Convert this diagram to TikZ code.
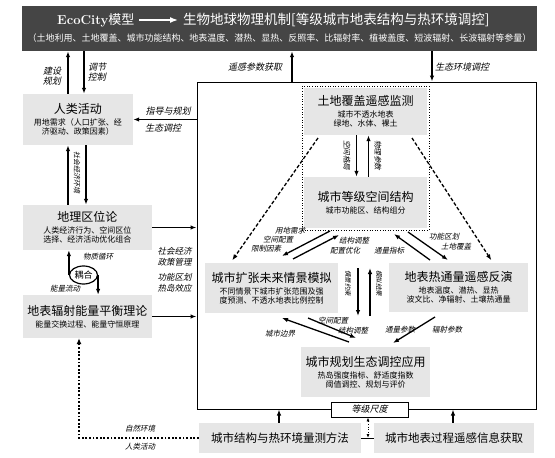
\documentclass[tikz,border=0pt]{standalone}
\usepackage{fontspec}
\usetikzlibrary{arrows.meta, shapes.geometric}
\newfontfamily\cjk{Noto Sans CJK SC}
\newfontfamily\cjkit[FakeSlant=0.22]{Noto Sans CJK SC}
\definecolor{bannergray}{HTML}{454545}
\definecolor{boxgray}{HTML}{E6E6E6}
\newcommand\boxtitle[1]{{\fontsize{12}{14}\selectfont #1\par}}
\newcommand\boxsub[1]{\vspace{3pt}{\fontsize{8}{9}\selectfont #1\par}}
\tikzset{
  arr/.style={line width=1.3pt, -{Latex[length=6pt,width=4.5pt]}},
  dasharr/.style={arr, dash pattern=on 3.5pt off 2pt},
  dotarr/.style={line width=2.1pt, dash pattern=on 1.8pt off 1.8pt, -{Latex[length=6pt,width=5pt]}},
  gbox/.style 2 args={fill=boxgray, text width=#1, minimum height=#2, inner sep=0pt, align=center, font=\cjk},
  lbl/.style={inner sep=0pt, align=center, font=\cjkit\fontsize{9}{10.5}\selectfont},
  slbl/.style={lbl, font=\cjkit\fontsize{7.5}{8.5}\selectfont},
  vlbl/.style={slbl, rotate=-90},
}
\begin{document}
\begin{tikzpicture}[x=1pt, y=-1pt]
\useasboundingbox (0,0) rectangle (555,458);
% banner
\node[fill=bannergray, minimum width=515pt, minimum height=45pt, inner sep=0pt] (banner) at (279.5,28.5) {};
\node[anchor=west, inner sep=0pt, text=white, font=\fontsize{13}{15}\selectfont] (eco) at (57,20) {\textbf{EcoCity}{\cjk 模型}};
\node[anchor=west, inner sep=0pt, text=white, font=\cjk\fontsize{13.5}{15}\selectfont] (mech) at (183,20) {生物地球物理机制[等级城市地表结构与热环境调控]};
\draw[white, line width=1.5pt, -{Latex[length=8pt,width=6pt]}] ([xshift=5pt]eco.east) -- ([xshift=-5pt]mech.west);
\node[inner sep=0pt, text=white, font=\cjk\fontsize{9}{10}\selectfont] (params) at (279.5,38) {（土地利用、土地覆盖、城市功能结构、地表温度、潜热、显热、反照率、比辐射率、植被盖度、短波辐射、长波辐射等参量）};

% left column
\node[gbox={110pt}{51pt}] (human) at (78,119.5) {\boxtitle{人类活动}\boxsub{用地需求（人口扩张、经\\济驱动、政策因素）}};
\node[gbox={129pt}{45pt}] (geo) at (87.5,227.5) {\boxtitle{地理区位论}\boxsub{人类经济行为、空间区位\\选择、经济活动优化组合}};
\node[gbox={129pt}{43pt}] (energy) at (87.5,316.5) {\boxtitle{地表辐射能量平衡理论}\boxsub{能量交换过程、能量守恒原理}};
\node[draw, ellipse, line width=1.2pt, inner sep=0pt, minimum width=28pt, minimum height=18pt, font=\cjk\fontsize{9}{10}\selectfont] (couple) at (83.5,275) {耦合};

% main frame
\node[draw, line width=1pt, minimum width=339pt, minimum height=327pt, inner sep=0pt] (frame) at (366.5,245.5) {};
\node[draw, dotted, line width=0.6pt, minimum width=127pt, minimum height=144pt, inner sep=0pt] (rsbox) at (365.5,158) {};
\node[gbox={123pt}{47pt}] (cover) at (365.5,111.5) {\boxtitle{土地覆盖遥感监测}\boxsub{城市不透水地表\\绿地、水体、裸土}};
\node[gbox={123pt}{51pt}] (struct) at (365.5,202.5) {\boxtitle{城市等级空间结构}\boxsub{城市功能区、结构组分}};
\node[gbox={133pt}{50pt}] (sim) at (271.5,288) {\boxtitle{城市扩张未来情景模拟}\boxsub{不同情景下城市扩张范围及强\\度预测、不透水地表比例控制}};
\node[gbox={139pt}{49pt}] (flux) at (458.5,287.5) {\boxtitle{地表热通量遥感反演}\boxsub{地表温度、潜热、显热\\波文比、净辐射、土壤热通量}};
\node[gbox={129pt}{50pt}] (plan) at (365.5,372) {\boxtitle{城市规划生态调控应用}\boxsub{热岛强度指标、舒适度指数\\阈值调控、规划与评价}};
\node[draw, fill=white, line width=0.8pt, minimum width=77pt, minimum height=15pt, inner sep=0pt, font=\cjkit\fontsize{9}{10}\selectfont] (scale) at (369.5,409.5) {等级尺度};

% bottom
\node[gbox={162pt}{30pt}, font=\cjk\fontsize{11.5}{13}\selectfont] (method) at (280,438) {城市结构与热环境量测方法};
\node[gbox={160pt}{30pt}, font=\cjk\fontsize{11.5}{13}\selectfont] (rsget) at (454,438) {城市地表过程遥感信息获取};

% floating arrow ends
\coordinate (dashl) at (318,138);
\coordinate (dashr) at (412,138);
\coordinate (a1s) at (330,231); \coordinate (a1e) at (282,256);
\coordinate (a2s) at (293,259); \coordinate (a2e) at (339,235);
\coordinate (b1s) at (430,260); \coordinate (b1e) at (394,234);
\coordinate (b2s) at (408,232); \coordinate (b2e) at (448,260);
\coordinate (m1s) at (358,268); \coordinate (m1e) at (358,316);
\coordinate (m2s) at (370,316); \coordinate (m2e) at (370,268);
\coordinate (c1s) at (349,342); \coordinate (c1e) at (282,318);
\coordinate (c2s) at (308,318); \coordinate (c2e) at (356,338);
\coordinate (d1s) at (435,317); \coordinate (d1e) at (393,343);
\coordinate (corner) at (79,438);

% connectors
\draw[arr] ([xshift=-10pt]human.north) -- ([xshift=-10pt]human.north |- banner.south);
\draw[arr] ([xshift=6pt]human.north |- banner.south) -- ([xshift=6pt]human.north);
\draw[arr] ([xshift=-19.5pt]geo.north) -- ([xshift=-19.5pt]geo.north |- human.south);
\draw[arr] ([xshift=-1.5pt]geo.north |- human.south) -- ([xshift=-1.5pt]geo.north);
\draw[arr] (frame.west |- human.east) -- (human.east);
\draw[arr] (geo.east) -- (geo.east -| frame.west);
\draw[arr] (energy.east) -- (energy.east -| frame.west);
\draw[arr] (couple.west) -- (couple.west |- geo.south);
\draw[arr] (couple.east) -- (couple.east |- energy.north);
\draw[arr] ([xshift=-74.5pt]frame.north) -- ([xshift=-74.5pt]frame.north |- banner.south);
\draw[arr] ([xshift=65.5pt]frame.north |- banner.south) -- ([xshift=65.5pt]frame.north);
\draw[arr] ([xshift=-9pt]cover.south) -- ([xshift=-9pt]struct.north);
\draw[arr] ([xshift=3pt]struct.north) -- ([xshift=3pt]cover.south);
\draw[dasharr, shorten >=3pt] (dashl) -- ([xshift=-41pt]sim.north);
\draw[dasharr, shorten >=3pt] (dashr) -- ([xshift=34.5pt]flux.north);
\draw[arr] (a1s) -- (a1e);
\draw[arr] (a2s) -- (a2e);
\draw[arr] (b1s) -- (b1e);
\draw[arr] (b2s) -- (b2e);
\draw[arr] (m1s) -- (m1e);
\draw[arr] (m2s) -- (m2e);
\draw[arr] (c1s) -- (c1e);
\draw[arr] (c2s) -- (c2e);
\draw[arr] (d1s) -- (d1e);
\draw[arr] ([xshift=-1pt]method.north) -- ([xshift=-1pt]method.north |- frame.south);
\draw[arr] ([xshift=-1pt]rsget.north) -- ([xshift=-1pt]rsget.north |- frame.south);
\draw[line width=0.8pt] (method.east) -- (rsget.west);
\draw[dotted, line width=0.8pt, {Latex[length=4pt,width=3pt]}-{Latex[length=4pt,width=3pt]}] ([xshift=-1.5pt]scale.south) -- ([xshift=-1.5pt]scale.south |- method.east);
\draw[dotarr] (method.west) -- (corner) -- (corner |- energy.south);

% labels
\node[lbl] (l-build) at (52,76) {建设\\规划};
\node[lbl] (l-adjust) at (97,72) {调节\\控制};
\node[lbl] (l-guide) at (168,111) {指导与规划};
\node[lbl] (l-eco) at (163,128) {生态调控};
\node[lbl] (l-param) at (255,67) {遥感参数获取};
\node[lbl] (l-env) at (462,67) {生态环境调控};
\node[vlbl, font=\cjkit\fontsize{7}{8}\selectfont] (l-socenv) at (77,172) {社会经济环境};
\node[lbl, font=\cjkit\fontsize{8.5}{11}\selectfont] (l-policy) at (174.5,256.5) {社会经济\\政策管理};
\node[lbl, font=\cjkit\fontsize{8.5}{11}\selectfont] (l-zone) at (174.5,282.5) {功能区划\\热岛效应};
\node[slbl] (l-matter) at (98,257) {物质循环};
\node[slbl] (l-flow) at (65,289) {能量流动};
\node[vlbl] (l-pattern) at (347,155) {空间格局};
\node[vlbl] (l-phys) at (378,155) {物理参数};
\node[slbl] (l-demand) at (290,231) {用地需求};
\node[slbl] (l-alloc) at (278,240) {空间配置};
\node[slbl] (l-limit) at (266,249) {限制因素};
\node[slbl] (l-restr) at (354,241) {结构调整};
\node[slbl] (l-optim) at (345,251) {配置优化};
\node[slbl] (l-index) at (389,251) {通量指标};
\node[slbl] (l-func) at (444,237) {功能区划};
\node[slbl] (l-cover) at (456,247) {土地覆盖};
\node[vlbl, font=\cjkit\fontsize{6.5}{7.5}\selectfont] (l-constr) at (348,283) {情景约束};
\node[vlbl, font=\cjkit\fontsize{6.5}{7.5}\selectfont] (l-result) at (379,283) {模拟结果};
\node[slbl] (l-bound) at (280,334) {城市边界};
\node[slbl] (l-alloc2) at (333,321) {空间配置};
\node[slbl] (l-restr2) at (353,331) {结构调整};
\node[slbl] (l-fluxp) at (400,330) {通量参数};
\node[slbl] (l-radp) at (447,330) {辐射参数};
\node[slbl] (l-nature) at (140,429) {自然环境};
\node[slbl] (l-human) at (140,447) {人类活动};
\end{tikzpicture}
\end{document}
